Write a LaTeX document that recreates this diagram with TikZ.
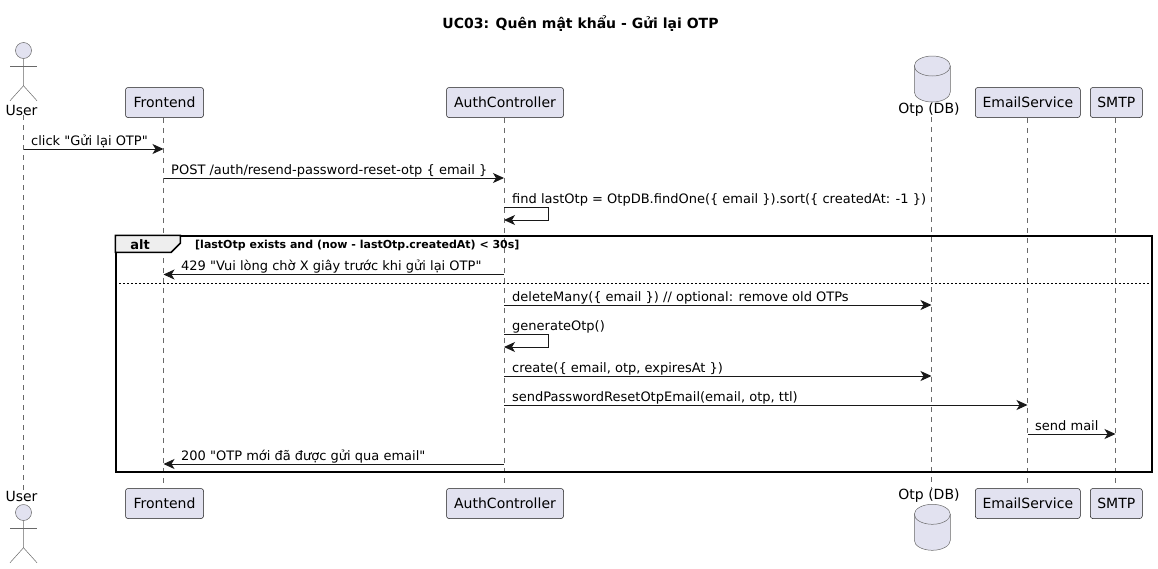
\documentclass[tikz,border=0pt]{standalone}
\usepackage{fontspec}
\setmainfont{DejaVu Sans}[Ligatures=TeXOff]
\usetikzlibrary{arrows.meta}
\definecolor{boxfill}{HTML}{E2E2F0}
\definecolor{inkline}{HTML}{181818}
\definecolor{tabfill}{HTML}{EEEEEE}
\tikzset{
	box/.style={draw=inkline,fill=boxfill,line width=0.5pt,rounded corners=2.5pt,minimum height=30pt,inner sep=0pt,font=\fontsize{14}{16}\selectfont},
	plainlabel/.style={inner sep=0pt,font=\fontsize{14}{16}\selectfont},
	lifeline/.style={draw=inkline!65,line width=0.5pt,dash pattern=on 5pt off 5pt},
	msg/.style={draw=inkline,line width=1pt,-{Stealth[length=11pt,width=10pt,inset=3pt]}},
	msglabel/.style={anchor=base west,inner sep=0pt,font=\fontsize{13}{15}\selectfont},
	figure/.style={draw=inkline!65,line width=0.5pt,fill=boxfill},
	figureline/.style={draw=inkline!65,line width=0.5pt},
}
\newcommand{\actorshape}[2]{%
	\node [figure,circle,minimum size=16pt,inner sep=0pt] (#2Head) at (#1) {};
	\draw [figureline] (#2Head.south) -- ++(0,-27) coordinate (#2Hip) -- ++(-13.5,-15);
	\draw [figureline] (#2Hip) -- ++(13.5,-15);
	\draw [figureline] ([shift={(-13.5,-7.5)}]#2Head.south) -- ++(27,0);
}
\newcommand{\dbshape}[1]{%
	\draw [figure] ([shift={(-18,-10)}]#1) arc (180:0:18 and 10) -- ++(0,-26) arc (0:-180:18 and 10) -- cycle;
	\draw [figureline] ([shift={(-18,-10)}]#1) arc (180:360:18 and 10);
}
\begin{document}
\begin{tikzpicture}[x=1pt,y=1pt]
	\useasboundingbox (0,0) rectangle (1158,-568);
	\node [inner sep=0pt,font=\bfseries\fontsize{14}{16}\selectfont] (title) at (580.5,-23.5) {UC03: Quên mật khẩu - Gửi lại OTP};
	% lifeline positions
	\coordinate (xUser) at (23.5,0);
	\coordinate (xFrontend) at (163.5,0);
	\coordinate (xAuth) at (504,0);
	\coordinate (xOtp) at (931.5,0);
	\coordinate (xEmail) at (1027.5,0);
	\coordinate (xSmtp) at (1115.5,0);
	% participants
	\node [plainlabel] (userTop) at (21.5,-110) {User};
	\node [box,minimum width=78pt] (frontendTop) at (164.5,-102.5) {Frontend};
	\node [box,minimum width=117pt] (authTop) at (505,-102.5) {AuthController};
	\node [plainlabel] (otpTop) at (929,-110) {Otp (DB)};
	\node [box,minimum width=105pt] (emailTop) at (1027.8,-102.5) {EmailService};
	\node [box,minimum width=52pt] (smtpTop) at (1116.3,-102.5) {SMTP};
	\node [plainlabel] (userBot) at (21.5,-496) {User};
	\node [box,minimum width=78pt] (frontendBot) at (164.5,-503.5) {Frontend};
	\node [box,minimum width=117pt] (authBot) at (505,-503.5) {AuthController};
	\node [plainlabel] (otpBot) at (929,-496) {Otp (DB)};
	\node [box,minimum width=105pt] (emailBot) at (1027.8,-503.5) {EmailService};
	\node [box,minimum width=52pt] (smtpBot) at (1116.3,-503.5) {SMTP};
	% lifelines
	\draw [lifeline] (xUser |- userTop.south) -- (xUser |- userBot.north);
	\draw [lifeline] (xFrontend |- frontendTop.south) -- (xFrontend |- frontendBot.north);
	\draw [lifeline] (xAuth |- authTop.south) -- (xAuth |- authBot.north);
	\draw [lifeline] (xOtp |- otpTop.south) -- (xOtp |- otpBot.north);
	\draw [lifeline] (xEmail |- emailTop.south) -- (xEmail |- emailBot.north);
	\draw [lifeline] (xSmtp |- smtpTop.south) -- (xSmtp |- smtpBot.north);
	% actor and database figures
	\actorshape{23.5,-50.5}{userFigTop}
	\actorshape{23.5,-512.5}{userFigBot}
	\dbshape{932.3,-56}
	\dbshape{932.3,-504.3}
	% alt frame
	\node [draw=black,line width=1.5pt,minimum width=1036pt,minimum height=236pt,inner sep=0pt] (altFrame) at (634,-354) {};
	\draw [draw=black,line width=1.5pt,fill=tabfill] (altFrame.north west) -- ++(65,0) -- ++(0,-8) -- ++(-9,-9) -- ++(-56,0) -- cycle;
	\node [inner sep=0pt,font=\bfseries\fontsize{13}{15}\selectfont] (altTab) at (140,-245) {alt};
	\node [anchor=base west,inner sep=0pt,font=\bfseries\fontsize{11}{13}\selectfont] (altGuard) at (195,-248) {[lastOtp exists and (now - lastOtp.createdAt) < 30s]};
	\coordinate (altSplit) at (0,-283);
	\draw [black,line width=1pt,dash pattern=on 2pt off 2pt] (altFrame.west |- altSplit) -- (altFrame.east |- altSplit);
	% messages
	\coordinate (m1) at (0,-149);
	\draw [msg] (xUser |- m1) -- (xFrontend |- m1);
	\node [msglabel] (m1Text) at (31,-145) {click "Gửi lại OTP"};
	\coordinate (m2) at (0,-178);
	\draw [msg] (xFrontend |- m2) -- (xAuth |- m2);
	\node [msglabel] (m2Text) at (171,-174) {POST /auth/resend-password-reset-otp \{ email \}};
	\coordinate (m3) at (0,-207);
	\draw [msg] (xAuth |- m3) -- ++(44,0) -- ++(0,-13) -- ++(-44,0);
	\node [msglabel] (m3Text) at (512,-203) {find lastOtp = OtpDB.findOne(\{ email \}).sort(\{ createdAt: -1 \})};
	\coordinate (m4) at (0,-274.5);
	\draw [msg] (xAuth |- m4) -- (xFrontend |- m4);
	\node [msglabel] (m4Text) at (181,-270.5) {429 "Vui lòng chờ X giây trước khi gửi lại OTP"};
	\coordinate (m5) at (0,-305);
	\draw [msg] (xAuth |- m5) -- (xOtp |- m5);
	\node [msglabel] (m5Text) at (512,-301) {deleteMany(\{ email \}) // optional: remove old OTPs};
	\coordinate (m6) at (0,-334);
	\draw [msg] (xAuth |- m6) -- ++(44,0) -- ++(0,-13) -- ++(-44,0);
	\node [msglabel] (m6Text) at (512,-330) {generateOtp()};
	\coordinate (m7) at (0,-376);
	\draw [msg] (xAuth |- m7) -- (xOtp |- m7);
	\node [msglabel] (m7Text) at (512,-372) {create(\{ email, otp, expiresAt \})};
	\coordinate (m8) at (0,-405);
	\draw [msg] (xAuth |- m8) -- (xEmail |- m8);
	\node [msglabel] (m8Text) at (512,-401) {sendPasswordResetOtpEmail(email, otp, ttl)};
	\coordinate (m9) at (0,-434);
	\draw [msg] (xEmail |- m9) -- (xSmtp |- m9);
	\node [msglabel] (m9Text) at (1035,-430) {send mail};
	\coordinate (m10) at (0,-464);
	\draw [msg] (xAuth |- m10) -- (xFrontend |- m10);
	\node [msglabel] (m10Text) at (181,-460) {200 "OTP mới đã được gửi qua email"};
\end{tikzpicture}
\end{document}
